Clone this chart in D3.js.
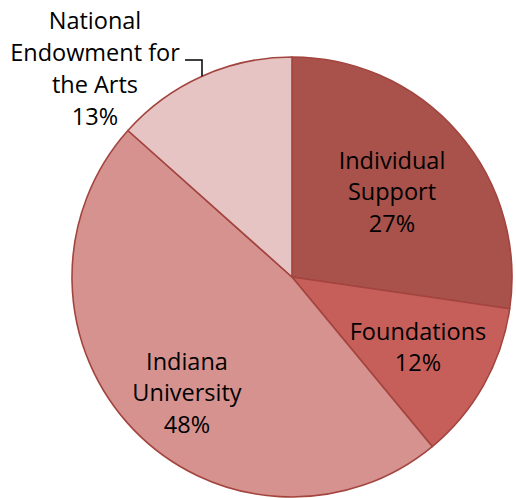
<!DOCTYPE html>
<html><head><meta charset="utf-8">
<script src="https://cdn.jsdelivr.net/npm/d3@7"></script>
<style>body{margin:0;background:#fff}svg{display:block}</style>
</head><body>
<svg id="c" width="516" height="498"></svg>
<script>
const categories = ["Individual Support", "Foundations", "Indiana University", "National Endowment for the Arts"];
const values = [27.3, 11.7, 47.6, 13.4];
const labelLines = [["Individual", "Support"], ["Foundations"], ["Indiana", "University"], ["National", "Endowment for", "the Arts"]];
const colors = ["#A8524B", "#C65F5A", "#D6928F", "#E6C4C3"];

const svg = d3.select("#c");
const cx = 292, cy = 277, r = 220;
const g = svg.append("g").attr("transform", `translate(${cx},${cy})`);
const pie = d3.pie().sort(null).value(d => d)(values);
const arc = d3.arc().innerRadius(0).outerRadius(r);
g.selectAll("path").data(pie).join("path")
  .attr("d", arc).attr("fill", (d, i) => colors[i])
  .attr("stroke", "#A3443F").attr("stroke-width", 1.6).attr("stroke-linejoin", "round");

const total = d3.sum(values);
const labelPos = [[392, 168.5], [418, 339.5], [187, 369.5], [95, 29.3]];
const lh = 31.8;
labelPos.forEach((p, i) => {
  const lines = labelLines[i].concat([Math.round(values[i] / total * 100) + "%"]);
  const t = svg.append("text").attr("text-anchor", "middle")
    .attr("font-family", "'Open Sans', sans-serif").attr("font-size", 23.5).attr("fill", "#000");
  lines.forEach((l, j) => t.append("tspan").attr("x", p[0]).attr("y", p[1] + j * lh).text(l));
});
// leader line for NEA
const ex = 202, ey = cy - Math.sqrt(r * r - (ex - cx) * (ex - cx));
svg.append("path").attr("d", `M185,60 L${ex},60 L${ex},${ey}`)
  .attr("fill", "none").attr("stroke", "#000").attr("stroke-width", 1.5);
</script>
</body></html>
